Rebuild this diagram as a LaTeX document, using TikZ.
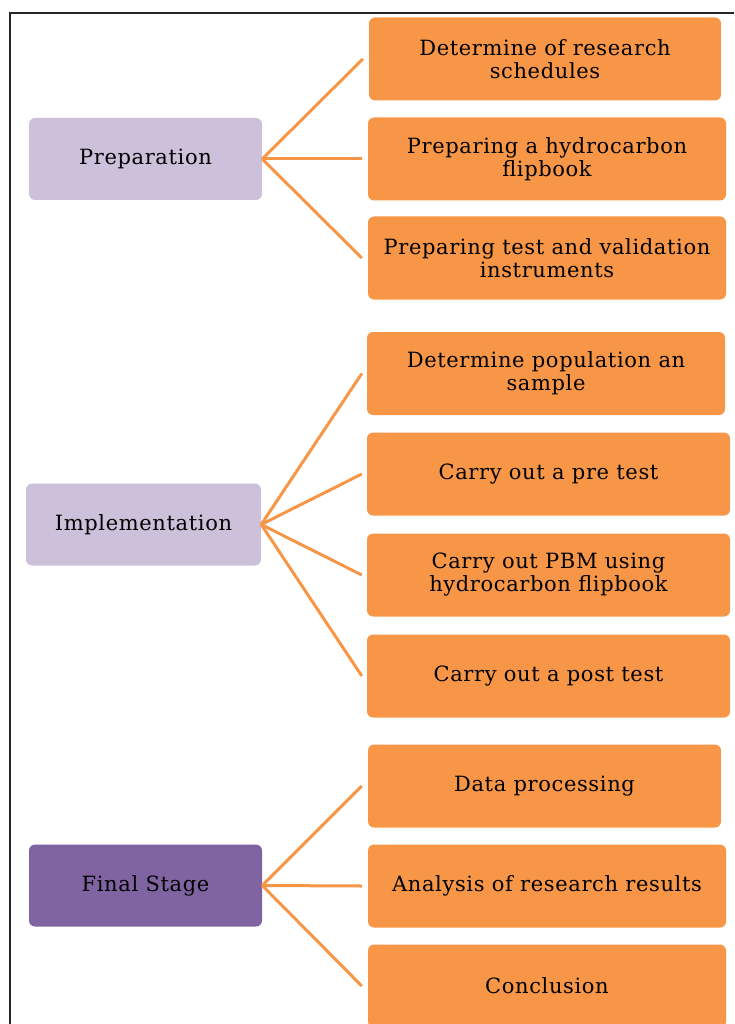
\documentclass[tikz,border=0pt]{standalone}
\usepackage{fontspec}
\setmainfont[LetterSpace=3]{DejaVu Serif}
\definecolor{taskorange}{HTML}{F79646}
\definecolor{stagelight}{HTML}{CCC0DA}
\definecolor{stagedark}{HTML}{8064A2}

\begin{document}
\begin{tikzpicture}[x=1pt,y=-1pt,
stage/.style={rounded corners=6pt,minimum width=233pt,minimum height=82pt,inner sep=0pt,font=\fontsize{21}{23}\selectfont},
task/.style={fill=taskorange,rounded corners=6pt,minimum height=83pt,inner sep=0pt,align=center,font=\fontsize{21}{23}\selectfont},
link/.style={draw=taskorange,line width=3pt}]
\useasboundingbox (0,0) rectangle (734,1024);
\draw[line width=2pt,black!85] (10,1024) -- (10,13) -- (734,13);

\node[stage,fill=stagelight] (prep) at (145.5,159) {Preparation};
\node[stage,fill=stagelight,minimum width=235pt] (impl) at (143.5,524.5) {Implementation};
\node[stage,fill=stagedark] (final) at (145.5,885.5) {Final Stage};

\node[task,minimum width=352pt] (sched) at (545,59) {Determine of research\\schedules};
\node[task,minimum width=358pt] (flip) at (547,159) {Preparing a hydrocarbon\\flipbook};
\node[task,minimum width=358pt] (instr) at (547,258) {Preparing test and validation\\instruments};

\node[task,minimum width=358pt] (sample) at (546,373.5) {Determine population an\\sample};
\node[task,minimum width=363pt] (pre) at (548.5,474) {Carry out a pre test};
\node[task,minimum width=363pt] (pbm) at (548.5,575) {Carry out PBM using\\hydrocarbon flipbook};
\node[task,minimum width=363pt] (post) at (548.5,676) {Carry out a post test};

\node[task,minimum width=353pt] (data) at (544.5,786) {Data processing};
\node[task,minimum width=358pt] (analysis) at (547,886) {Analysis of research results};
\node[task,minimum width=358pt] (concl) at (547,986) {Conclusion};

\draw[link] (prep.east) -- ([xshift=-6pt]sched.west);
\draw[link] (prep.east) -- ([xshift=-6pt]flip.west);
\draw[link] (prep.east) -- ([xshift=-6pt]instr.west);

\draw[link] (impl.east) -- ([xshift=-5pt]sample.west);
\draw[link] (impl.east) -- ([xshift=-5pt]pre.west);
\draw[link] (impl.east) -- ([xshift=-5pt]pbm.west);
\draw[link] (impl.east) -- ([xshift=-5pt]post.west);

\draw[link] (final.east) -- ([xshift=-6pt]data.west);
\draw[link] (final.east) -- ([xshift=-6pt]analysis.west);
\draw[link] (final.east) -- ([xshift=-6pt]concl.west);
\end{tikzpicture}
\end{document}
